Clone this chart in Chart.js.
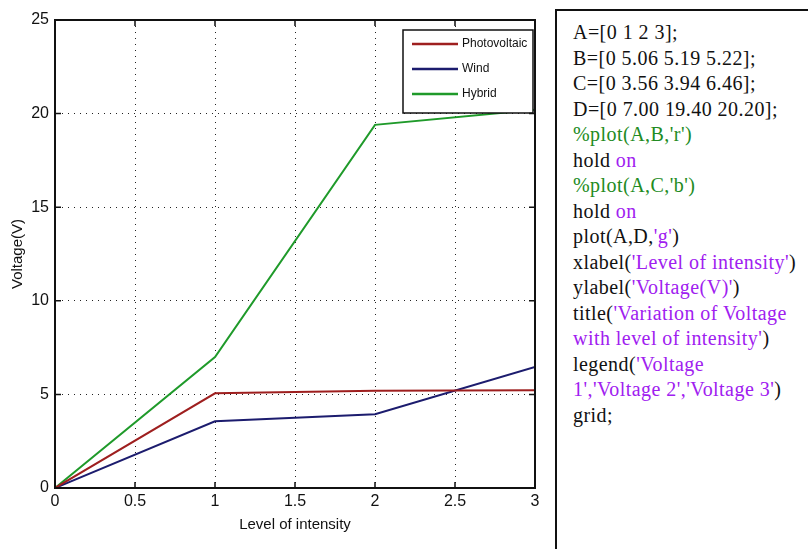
<!DOCTYPE html>
<html>
<head>
<meta charset="utf-8">
<script src="https://cdn.jsdelivr.net/npm/chart.js@4.4.1/dist/chart.umd.min.js"></script>
<style>
  html, body { margin: 0; padding: 0; background: #fff; }
  #wrap { position: relative; width: 808px; height: 549px; overflow: hidden; }
  #plot { position: absolute; left: 0; top: 0; width: 550px; height: 549px; }
  #code {
    position: absolute; left: 555px; top: 9px; width: 270px; height: 560px;
    border: 2px solid #111; box-sizing: border-box;
    font-family: "Liberation Serif", "DejaVu Serif", serif; font-size: 20px;
    letter-spacing: 0.45px;
    line-height: 25.5px; padding: 9px 0 0 16px; color: #111; white-space: pre;
  }
  .s { color: #a020f0; }
  .c { color: #228b22; }
</style>
</head>
<body>
<div id="wrap">
  <div id="plot"><canvas id="chart" width="550" height="549"></canvas></div>
  <div id="code">A=[0 1 2 3];
B=[0 5.06 5.19 5.22];
C=[0 3.56 3.94 6.46];
D=[0 7.00 19.40 20.20];
<span class="c">%plot(A,B,'r')</span>
hold <span class="s">on</span>
<span class="c">%plot(A,C,'b')</span>
hold <span class="s">on</span>
plot(A,D,<span class="s">'g'</span>)
xlabel(<span class="s">'Level of intensity'</span>)
ylabel(<span class="s">'Voltage(V)'</span>)
title(<span class="s">'Variation of Voltage</span>
<span class="s">with level of intensity'</span>)
legend(<span class="s">'Voltage</span>
<span class="s">1','Voltage 2','Voltage 3'</span>)
grid;</div>
</div>
<script>
// данные с графика
const intensity = [0, 1, 2, 3];
const photovoltaic = [0, 5.06, 5.19, 5.22];
const wind = [0, 3.56, 3.94, 6.46];
const hybrid = [0, 7.00, 19.40, 20.20];
const seriesNames = ['Photovoltaic', 'Wind', 'Hybrid'];
const seriesColors = ['#9e1f1f', '#1c1c6e', '#1f9a2a'];

const sansFamily = '"Liberation Sans Narrow", "Liberation Sans", Arial, sans-serif';
const axisFont = { family: sansFamily, size: 16 };
const labelFont = { family: sansFamily, size: 15 };

function toPoints(ys) {
  return intensity.map((x, i) => ({ x: x, y: ys[i] }));
}

// рамка вокруг графика + внутренние засечки как в MATLAB
const boxPlugin = {
  id: 'box',
  afterDraw(chart) {
    const { ctx, chartArea: a, scales } = chart;
    ctx.save();
    ctx.strokeStyle = '#111';
    ctx.lineWidth = 2;
    ctx.strokeRect(a.left, a.top, a.right - a.left, a.bottom - a.top);
    ctx.lineWidth = 1.5;
    ctx.beginPath();
    scales.x.ticks.forEach(t => {
      const px = scales.x.getPixelForValue(t.value);
      ctx.moveTo(px, a.bottom); ctx.lineTo(px, a.bottom - 6);
      ctx.moveTo(px, a.top); ctx.lineTo(px, a.top + 6);
    });
    scales.y.ticks.forEach(t => {
      const py = scales.y.getPixelForValue(t.value);
      ctx.moveTo(a.left, py); ctx.lineTo(a.left + 6, py);
      ctx.moveTo(a.right, py); ctx.lineTo(a.right - 6, py);
    });
    ctx.stroke();
    ctx.restore();
  }
};

// легенда внутри области графика, справа сверху
const legendBoxPlugin = {
  id: 'legendBox',
  afterDatasetsDraw(chart) {
    const { ctx, chartArea: a } = chart;
    const x0 = a.right - 132, y0 = a.top + 10, w = 130, h = 83;
    ctx.save();
    ctx.fillStyle = '#fff';
    ctx.fillRect(x0, y0, w, h);
    ctx.strokeStyle = '#111';
    ctx.lineWidth = 1.5;
    ctx.strokeRect(x0, y0, w, h);
    ctx.font = '12px ' + sansFamily;
    ctx.textBaseline = 'middle';
    chart.data.datasets.forEach((ds, i) => {
      const y = y0 + 14 + i * 25;
      ctx.strokeStyle = ds.borderColor;
      ctx.lineWidth = 2.5;
      ctx.beginPath(); ctx.moveTo(x0 + 9, y); ctx.lineTo(x0 + 55, y); ctx.stroke();
      ctx.fillStyle = '#111';
      ctx.fillText(ds.label, x0 + 59, y);
    });
    ctx.restore();
  }
};

new Chart(document.getElementById('chart'), {
  type: 'line',
  data: {
    datasets: [photovoltaic, wind, hybrid].map((ys, i) => ({
      label: seriesNames[i],
      data: toPoints(ys),
      borderColor: seriesColors[i],
      backgroundColor: seriesColors[i],
      borderWidth: 2,
      pointRadius: 0,
      tension: 0
    }))
  },
  options: {
    responsive: false,
    animation: false,
    layout: { padding: { left: 0, top: 20, right: 15, bottom: 0 } },
    plugins: { legend: { display: false }, tooltip: { enabled: false } },
    scales: {
      x: {
        type: 'linear', min: 0, max: 3,
        afterFit(s) { s.height = 61; },
        ticks: { stepSize: 0.5, color: '#111', font: axisFont, padding: 4, callback: v => String(Number(v)) },
        grid: { color: '#222', lineWidth: 1, drawTicks: false },
        border: { display: true, color: '#111', width: 2, dash: [1, 5] },
        title: { display: true, text: 'Level of intensity', color: '#111', font: labelFont, padding: { top: 4, bottom: 15 } }
      },
      y: {
        type: 'linear', min: 0, max: 25,
        afterFit(s) { s.width = 55; },
        ticks: { stepSize: 5, color: '#111', font: axisFont, padding: 6 },
        grid: { color: '#222', lineWidth: 1, drawTicks: false },
        border: { display: true, color: '#111', width: 2, dash: [1, 5] },
        title: { display: true, text: 'Voltage(V)', color: '#111', font: labelFont, padding: { top: 9, bottom: 4 } }
      }
    }
  },
  plugins: [boxPlugin, legendBoxPlugin]
});
</script>
</body>
</html>
